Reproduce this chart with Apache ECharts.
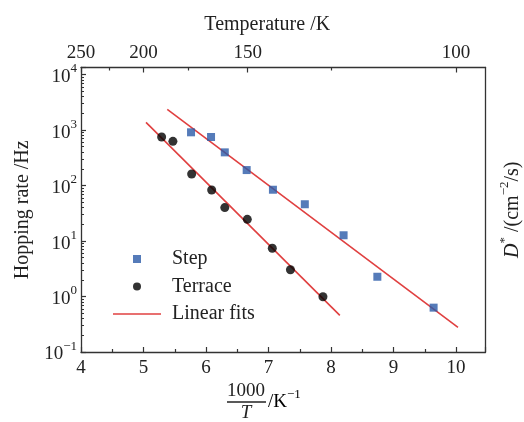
<!DOCTYPE html>
<html><head><meta charset="utf-8">
<script src="https://cdn.jsdelivr.net/npm/echarts@6/dist/echarts.min.js"></script>
<style>html,body{margin:0;padding:0;background:#fff}#c{width:524px;height:422px}</style>
</head><body><div id="c"></div><script>
// ---- data ----
const stepX = [5.76, 6.08, 6.30, 6.65, 7.07, 7.58, 8.20, 8.74, 9.64];
const stepRate = [910, 750, 396, 190, 84, 46, 12.7, 2.27, 0.63];
const terraceX = [5.29, 5.47, 5.77, 6.09, 6.30, 6.66, 7.06, 7.35, 7.87];
const terraceRate = [748, 625, 161, 83, 40, 24.6, 7.4, 3.04, 0.99];
const stepFitX = [5.38, 10.03];
const stepFitRate = [2360, 0.279];
const terraceFitX = [5.04, 8.14];
const terraceFitRate = [1377, 0.458];
const xMinorTicks = [4.5, 5.5, 6.5, 7.5, 8.5, 9.5];
const tempMajor = [250, 200, 150, 100];
const tempMinor = [225, 175, 125];
const yMinorTicks = [0.2,0.3,0.4,0.5,0.6,0.7,0.8,0.9, 2,3,4,5,6,7,8,9, 20,30,40,50,60,70,80,90,
  200,300,400,500,600,700,800,900, 2000,3000,4000,5000,6000,7000,8000,9000];

const FONT = 'Liberation Serif';
const INK = '#222';
const FRAME = '#333';
const pairs = (xs, ys) => xs.map((x, i) => [x, ys[i]]);
const tempPos = t => 1000 / t;

const chart = echarts.init(document.getElementById('c'), null, {renderer: 'canvas'});
const supRich = {
  b: {fontFamily: FONT, fontSize: 19, color: INK, lineHeight: 24, verticalAlign: 'bottom'},
  s: {fontFamily: FONT, fontSize: 13, color: INK, lineHeight: 13, verticalAlign: 'top'}
};
const lineCommon = {show: true, lineStyle: {color: FRAME, width: 1.3}};

chart.setOption({
  backgroundColor: '#fff',
  animation: false,
  grid: {left: 81, right: 38.5, top: 67.5, bottom: 70, containLabel: false, outerBoundsMode: 'none'},
  legend: {
    orient: 'vertical', left: 113, top: 249, padding: 0, itemWidth: 48, itemHeight: 8, itemGap: 7.5,
    symbolKeepAspect: true,
    textStyle: {fontFamily: FONT, fontSize: 20, color: INK, padding: [0, 0, 0, 6]},
    data: [
      {name: 'Step', icon: 'path://M0,0H10V10H0Z'},
      {name: 'Terrace', icon: 'circle'},
      {name: 'Linear fits', icon: 'path://M0,0H60V2H0Z'}
    ]
  },
  xAxis: [
    { // bottom main
      type: 'value', position: 'bottom', min: 4, max: 10.47, interval: 1,
      axisLine: lineCommon, splitLine: {show: false},
      axisTick: {inside: true, length: 5, lineStyle: {color: FRAME, width: 1.2}},
      axisLabel: {margin: 7, fontFamily: FONT, fontSize: 19, color: INK,
        formatter: v => (Math.abs(v - Math.round(v)) < 1e-6 ? String(Math.round(v)) : '')}
    },
    { // bottom minor ticks
      type: 'value', position: 'bottom', min: 4, max: 10.47,
      axisLine: {show: false}, splitLine: {show: false},
      axisTick: {inside: true, length: 3, customValues: xMinorTicks, lineStyle: {color: FRAME, width: 1.2}},
      axisLabel: {show: false, customValues: xMinorTicks}
    },
    { // top temperature axis
      type: 'value', position: 'top', min: 4, max: 10.47,
      axisLine: lineCommon, splitLine: {show: false},
      name: 'Temperature /K', nameLocation: 'middle', nameGap: 33,
      nameTextStyle: {fontFamily: FONT, fontSize: 20, color: INK, padding: [0, 32, 0, 0]},
      axisTick: {inside: true, length: 5, customValues: tempMajor.map(tempPos), lineStyle: {color: FRAME, width: 1.2}},
      axisLabel: {margin: 5, fontFamily: FONT, fontSize: 19, color: INK,
        customValues: tempMajor.map(tempPos), formatter: v => String(Math.round(1000 / v))}
    },
    { // top minor ticks
      type: 'value', position: 'top', min: 4, max: 10.47,
      axisLine: {show: false}, splitLine: {show: false},
      axisTick: {inside: true, length: 3, customValues: tempMinor.map(tempPos), lineStyle: {color: FRAME, width: 1.2}},
      axisLabel: {show: false, customValues: tempMinor.map(tempPos)}
    }
  ],
  yAxis: [
    { // left main log axis
      type: 'log', position: 'left', min: 0.1, max: 13400, logBase: 10,
      axisLine: lineCommon, splitLine: {show: false},
      name: 'Hopping rate /Hz', nameLocation: 'middle', nameGap: 48, nameRotate: 90,
      nameTextStyle: {fontFamily: FONT, fontSize: 20, color: INK},
      axisTick: {inside: true, length: 5, lineStyle: {color: FRAME, width: 1.2}},
      axisLabel: {margin: 4, rich: supRich,
        formatter: v => {
          const e = Math.round(Math.log10(v));
          if (Math.abs(Math.log10(v) - e) > 1e-3) return '';
          return '{b|10}{s|' + (e < 0 ? '\u2212' + (-e) : e) + '}';
        }}
    },
    { // left minor ticks
      type: 'log', position: 'left', min: 0.1, max: 13400, logBase: 10,
      axisLine: {show: false}, splitLine: {show: false},
      axisTick: {inside: true, length: 3, customValues: yMinorTicks, lineStyle: {color: FRAME, width: 1}},
      axisLabel: {show: false, customValues: yMinorTicks}
    },
    { // right frame with D* label
      type: 'log', position: 'right', min: 0.1, max: 13400, logBase: 10,
      axisLine: lineCommon, splitLine: {show: false}, axisTick: {show: false}, axisLabel: {show: false},
      name: '{i|D}{s|*}{b| /(cm}{s|\u22122}{b|/s)}', nameLocation: 'middle', nameGap: 13, nameRotate: 90,
      nameTextStyle: {rich: {
        i: {fontFamily: FONT, fontSize: 20, fontStyle: 'italic', color: INK, lineHeight: 24, verticalAlign: 'bottom'},
        b: {fontFamily: FONT, fontSize: 20, color: INK, lineHeight: 24, verticalAlign: 'bottom'},
        s: {fontFamily: FONT, fontSize: 13, color: INK, lineHeight: 13, verticalAlign: 'top'}
      }}
    }
  ],
  graphic: [
    {type: 'text', x: 246, y: 391, style: {text: '1000', fontFamily: FONT, fontSize: 19, fill: INK, align: 'center', verticalAlign: 'middle'}},
    {type: 'line', shape: {x1: 227, y1: 402, x2: 266, y2: 402}, style: {stroke: INK, lineWidth: 1.3}},
    {type: 'text', x: 246, y: 413, style: {text: 'T', fontFamily: FONT, fontSize: 19, fontStyle: 'italic', fill: INK, align: 'center', verticalAlign: 'middle'}},
    {type: 'text', x: 268, y: 400, style: {text: '{b|/K}{s|\u22121}', align: 'left', verticalAlign: 'middle', rich: supRich}}
  ],
  series: [
    {name: 'Step', type: 'scatter', xAxisIndex: 0, yAxisIndex: 0, symbol: 'rect', symbolSize: 8,
      itemStyle: {color: '#2a5aa8'}, data: pairs(stepX, stepRate), z: 5},
    {name: 'Terrace', type: 'scatter', xAxisIndex: 0, yAxisIndex: 0, symbol: 'circle', symbolSize: 9,
      itemStyle: {color: '#000'}, data: pairs(terraceX, terraceRate), z: 5},
    {name: 'Linear fits', type: 'line', xAxisIndex: 0, yAxisIndex: 0, symbol: 'none',
      lineStyle: {color: '#e04040', width: 1.6}, itemStyle: {color: '#e04040'}, data: pairs(stepFitX, stepFitRate), z: 3},
    {name: 'Linear fits', type: 'line', xAxisIndex: 0, yAxisIndex: 0, symbol: 'none',
      lineStyle: {color: '#e04040', width: 1.6}, itemStyle: {color: '#e04040'}, data: pairs(terraceFitX, terraceFitRate), z: 3}
  ]
});
</script></body></html>
